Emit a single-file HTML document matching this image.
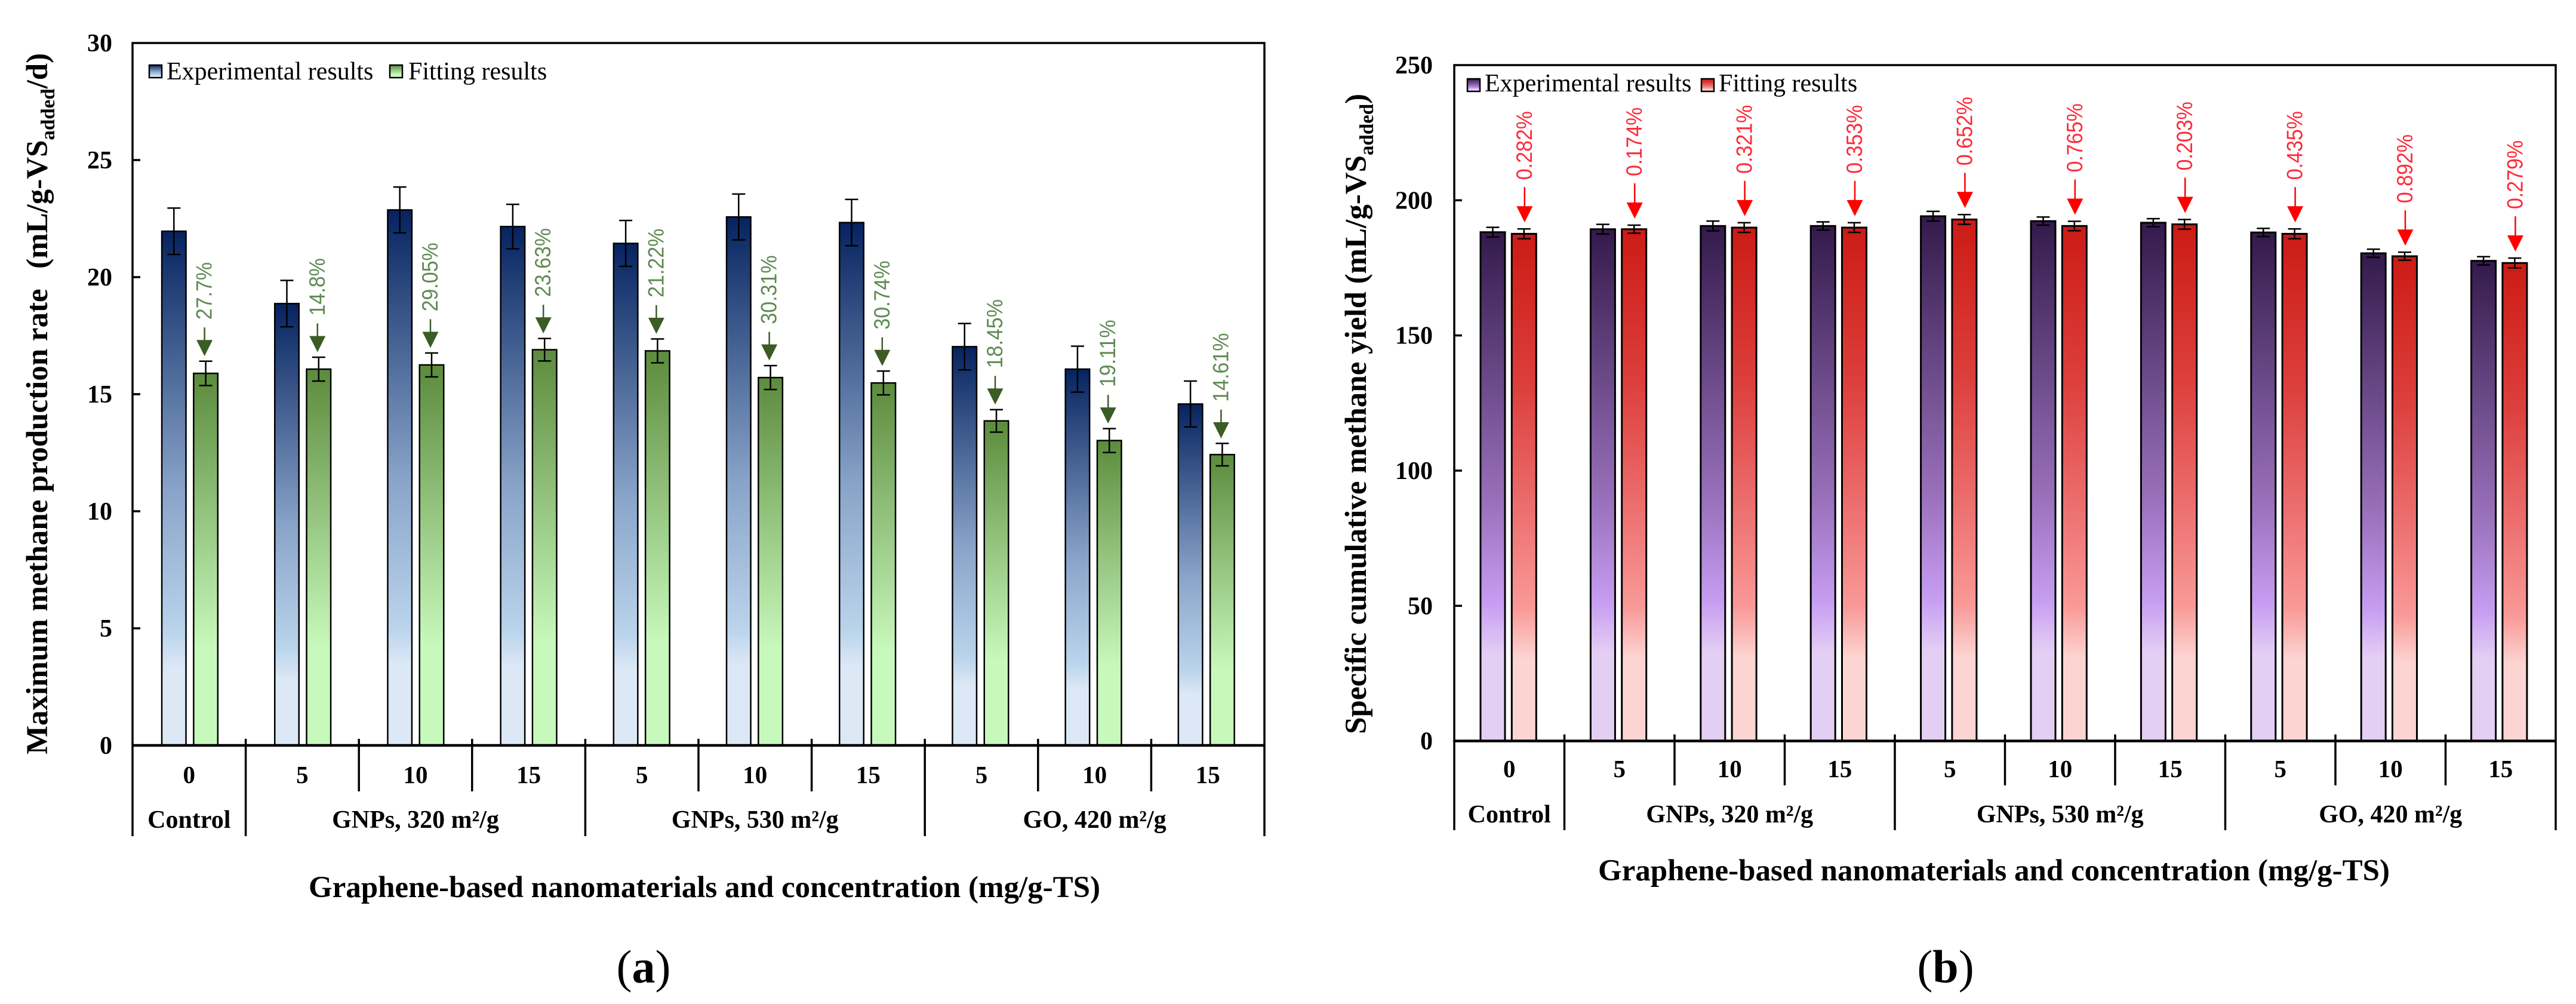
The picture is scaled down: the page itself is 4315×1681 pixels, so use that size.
<!DOCTYPE html>
<html lang="en">
<head>
<meta charset="utf-8">
<title>Methane production rate and yield: experimental and fitting results</title>
<style>
html,body{margin:0;padding:0;background:#fff;width:4315px;height:1681px;overflow:hidden}
svg{display:block}
text{font-family:"Liberation Serif","DejaVu Serif",serif;fill:#000;white-space:pre}
.tick{font-size:42px;font-weight:700}
.cat{font-size:41px;font-weight:700;text-anchor:middle}
.grp{font-size:42px;font-weight:700;text-anchor:middle}
.leg{font-size:42px}
.title{font-size:51px;font-weight:700}
.sub{font-size:33px}
.pct{font-family:"Liberation Sans","DejaVu Sans",sans-serif;font-size:34px}
.cap{font-size:78px}
</style>
</head>
<body>
<svg xmlns="http://www.w3.org/2000/svg" width="4315" height="1681" viewBox="0 0 4315 1681">
<defs>
<linearGradient id="grad-blue" x1="0" y1="0" x2="0" y2="1">
<stop offset="0" stop-color="#062360"/><stop offset=".5" stop-color="#88a3c8"/><stop offset=".78" stop-color="#bad4ec"/><stop offset=".85" stop-color="#dce8f5"/><stop offset="1" stop-color="#dce8f5"/>
</linearGradient>
<linearGradient id="grad-green" x1="0" y1="0" x2="0" y2="1">
<stop offset="0" stop-color="#5c8b3d"/><stop offset=".74" stop-color="#c8f9bc"/><stop offset="1" stop-color="#c8f9bc"/>
</linearGradient>
<linearGradient id="grad-purple" x1="0" y1="0" x2="0" y2="1">
<stop offset="0" stop-color="#331a4b"/><stop offset=".54" stop-color="#9b72bd"/><stop offset=".73" stop-color="#c79df2"/><stop offset=".83" stop-color="#e4cff4"/><stop offset="1" stop-color="#e4cff4"/>
</linearGradient>
<linearGradient id="grad-red" x1="0" y1="0" x2="0" y2="1">
<stop offset="0" stop-color="#cc1b15"/><stop offset=".3" stop-color="#dc3f3c"/><stop offset=".54" stop-color="#ec6e6e"/><stop offset=".74" stop-color="#f99a98"/><stop offset=".84" stop-color="#fcd5d2"/><stop offset="1" stop-color="#fcd5d2"/>
</linearGradient>
</defs>

<rect width="4315" height="1681" fill="#fff"/>

<g id="panel-a">
  <text class="title" transform="translate(79,1263) rotate(-90)">Maximum methane production rate  <tspan dx="8">(mL/g-VS</tspan><tspan class="sub" dy="12">added</tspan><tspan dy="-12">/d)</tspan></text>
  <text class="title" x="517" y="1502">Graphene-based nanomaterials and concentration (mg/g-TS)</text>
  <g>
    <rect x="250" y="109" width="21" height="21" fill="url(#grad-blue)" stroke="#000" stroke-width="2.5"/>
    <text class="leg" x="279" y="133">Experimental results</text>
    <rect x="653" y="109" width="21" height="21" fill="url(#grad-green)" stroke="#000" stroke-width="2.5"/>
    <text class="leg" x="684" y="133">Fitting results</text>
  </g>
</g>
<text x="1078" y="1645" class="cap" text-anchor="middle">(<tspan font-weight="700">a</tspan>)</text>

<g id="panel-b">
  <text class="title" transform="translate(2288,1229) rotate(-90)">Specific cumulative methane yield (mL/g-VS<tspan class="sub" dy="12">added</tspan><tspan dy="-12">)</tspan></text>
  <text class="title" x="2677" y="1474">Graphene-based nanomaterials and concentration (mg/g-TS)</text>
  <g>
    <rect x="2458" y="132" width="21" height="21" fill="url(#grad-purple)" stroke="#000" stroke-width="2.5"/>
    <text class="leg" x="2487" y="153">Experimental results</text>
    <rect x="2850" y="132" width="21" height="21" fill="url(#grad-red)" stroke="#000" stroke-width="2.5"/>
    <text class="leg" x="2879" y="153">Fitting results</text>
  </g>
</g>
<text x="3259" y="1645" class="cap" text-anchor="middle">(<tspan font-weight="700">b</tspan>)</text>
</svg>

<script>
// Shared categories
const concentrations = ['0', '5', '10', '15', '5', '10', '15', '5', '10', '15'];
const groupLabels = ['Control', 'GNPs, 320 m²/g', 'GNPs, 530 m²/g', 'GO, 420 m²/g'];
const groupSizes = [1, 3, 3, 3];

// Panel (a): maximum methane production rate
const rateTicks = [0, 5, 10, 15, 20, 25, 30];
const rateExperimental = [21.96, 18.87, 22.87, 22.16, 21.44, 22.57, 22.33, 17.03, 16.07, 14.58];
const rateExperimentalError = [0.99, 0.99, 0.98, 0.95, 0.98, 0.98, 0.99, 0.99, 0.98, 0.98];
const rateFitting = [15.89, 16.07, 16.25, 16.90, 16.85, 15.71, 15.48, 13.86, 13.02, 12.42];
const rateFittingError = [0.52, 0.51, 0.51, 0.48, 0.51, 0.51, 0.51, 0.48, 0.51, 0.48];
const rateDeviation = ['27.7%', '14.8%', '29.05%', '23.63%', '21.22%', '30.31%', '30.74%', '18.45%', '19.11%', '14.61%'];

// Panel (b): specific cumulative methane yield
const yieldTicks = [0, 50, 100, 150, 200, 250];
const yieldExperimental = [188.2, 189.3, 190.5, 190.5, 194.1, 192.3, 191.7, 188.1, 180.4, 177.6];
const yieldExperimentalError = [1.8, 1.8, 1.8, 1.5, 1.8, 1.5, 1.5, 1.5, 1.5, 1.55];
const yieldFitting = [187.6, 189.3, 189.9, 189.9, 192.9, 190.5, 191.1, 187.6, 179.3, 176.8];
const yieldFittingError = [1.8, 1.5, 1.8, 1.8, 1.8, 1.74, 1.8, 1.8, 1.5, 1.8];
const yieldDeviation = ['0.282%', '0.174%', '0.321%', '0.353%', '0.652%', '0.765%', '0.203%', '0.435%', '0.892%', '0.279%'];

const SVG_NS = 'http://www.w3.org/2000/svg';

function mk(tag, attrs, parent) {
  const node = document.createElementNS(SVG_NS, tag);
  for (const key in attrs) node.setAttribute(key, attrs[key]);
  parent.appendChild(node);
  return node;
}

function drawPanel(panel, cfg) {
  const yScale = function (v) {
    return cfg.y0 - v * (cfg.y0 - cfg.yTop) / cfg.yMax;
  };
  const cellX = function (i) {
    return cfg.left + i * (cfg.right - cfg.left) / concentrations.length;
  };
  const barCenter = function (i, first) {
    return first + i * cfg.barStep;
  };

  // Bars and error bars
  const drawSeries = function (values, errors, first, fill, seriesName) {
    values.forEach(function (v, i) {
      const cx = barCenter(i, first);
      const bar = mk('rect', {
        x: cx - cfg.barWidth / 2,
        y: yScale(v),
        width: cfg.barWidth,
        height: cfg.y0 - yScale(v),
        fill: fill,
        stroke: '#000',
        'stroke-width': cfg.barStroke
      }, panel);
      
      

      const errorBar = mk('path', {
        d: 'M' + (cx - 11) + ' ' + yScale(v + errors[i]) + 'H' + (cx + 11) +
           'M' + cx + ' ' + yScale(v + errors[i]) + 'V' + yScale(v - errors[i]) +
           'M' + (cx - 11) + ' ' + yScale(v - errors[i]) + 'H' + (cx + 11),
        fill: 'none',
        stroke: '#000',
        'stroke-width': 2.5
      }, panel);
      
      
    });
  };
  drawSeries(cfg.experimental, cfg.experimentalError, cfg.firstExp, cfg.expFill, 'experimental');
  drawSeries(cfg.fitting, cfg.fittingError, cfg.firstFit, cfg.fitFill, 'fitting');

  // Deviation arrows and labels
  cfg.deviation.forEach(function (label, i) {
    const ax = barCenter(i, cfg.firstFit) + cfg.arrowShift;
    const tip = yScale(cfg.fitting[i] + cfg.fittingError[i]) - cfg.arrowGap;
    const headTop = tip - 27;
    const lineTop = tip - cfg.arrowLength;

    const shaft = mk('line', {
      x1: ax, y1: lineTop, x2: ax, y2: headTop + 1,
      stroke: cfg.arrowColor,
      'stroke-width': 2.5
    }, panel);
    
    

    const head = mk('polygon', {
      points: (ax - 13.5) + ',' + headTop + ' ' + (ax + 13.5) + ',' + headTop + ' ' + ax + ',' + tip,
      fill: cfg.arrowColor
    }, panel);
    
    

    const pct = mk('text', {
      class: 'pct',
      transform: 'translate(' + (ax + 12) + ',' + (lineTop - cfg.labelGap) + ') rotate(-90) scale(1,1.1)',
      style: 'fill:' + cfg.labelColor
    }, panel);
    pct.textContent = label;
    
    
  });

  // Plot frame
  const frame = mk('rect', {
    x: cfg.left, y: cfg.yTop,
    width: cfg.right - cfg.left, height: cfg.y0 - cfg.yTop,
    fill: 'none', stroke: '#000', 'stroke-width': 3.5
  }, panel);
  
  

  // Y axis
  cfg.ticks.forEach(function (t) {
    if (t > 0 && t < cfg.yMax) {
      const mark = mk('line', {
        x1: cfg.left, x2: cfg.left + 13, y1: yScale(t), y2: yScale(t),
        stroke: '#000', 'stroke-width': 3.5
      }, panel);
      
      
    }
    const tickLabel = mk('text', {
      class: 'tick',
      x: cfg.tickRight,
      y: yScale(t) + 14,
      'text-anchor': 'end'
    }, panel);
    tickLabel.textContent = String(t);
    
    
  });

  // X axis line
  const xAxis = mk('line', {
    x1: cfg.left, x2: cfg.right, y1: cfg.y0, y2: cfg.y0,
    stroke: '#000', 'stroke-width': 4.5
  }, panel);
  
  

  // Category labels
  concentrations.forEach(function (c, i) {
    const catLabel = mk('text', {
      class: 'cat',
      x: cellX(i + 0.5),
      y: cfg.catBase
    }, panel);
    catLabel.textContent = c;
    
    
  });

  // Category separators: long on group boundaries, short elsewhere
  const boundaries = [0];
  groupSizes.forEach(function (s) {
    boundaries.push(boundaries[boundaries.length - 1] + s);
  });
  for (let i = 0; i <= concentrations.length; i++) {
    const isBoundary = boundaries.indexOf(i) >= 0;
    const sep = mk('line', {
      x1: cellX(i), x2: cellX(i),
      y1: (i === 0 || i === concentrations.length) ? cfg.y0 : cfg.y0 - 11,
      y2: isBoundary ? cfg.longEnd : cfg.shortEnd,
      stroke: '#000', 'stroke-width': 3.5
    }, panel);
    
    
  }

  // Group labels
  groupLabels.forEach(function (g, i) {
    const groupLabel = mk('text', {
      class: 'grp',
      x: cellX((boundaries[i] + boundaries[i + 1]) / 2),
      y: cfg.groupBase
    }, panel);
    groupLabel.textContent = g;
    
    
  });
}

drawPanel(document.getElementById('panel-a'), {
  left: 222, right: 2118, yTop: 72, y0: 1248, yMax: 30,
  ticks: rateTicks, tickRight: 188,
  experimental: rateExperimental, experimentalError: rateExperimentalError,
  fitting: rateFitting, fittingError: rateFittingError, deviation: rateDeviation,
  firstExp: 291.3, firstFit: 344.6, barStep: 189.2, barWidth: 40.5, barStroke: 2.5,
  expFill: 'url(#grad-blue)', fitFill: 'url(#grad-green)',
  arrowColor: '#3b5c24', labelColor: '#5f8a52', arrowGap: 8.5, arrowLength: 48, arrowShift: -2, labelGap: 13,
  catBase: 1311, groupBase: 1386, shortEnd: 1325, longEnd: 1400
});

drawPanel(document.getElementById('panel-b'), {
  left: 2436, right: 4281, yTop: 109, y0: 1240.6, yMax: 250,
  ticks: yieldTicks, tickRight: 2400,
  experimental: yieldExperimental, experimentalError: yieldExperimentalError,
  fitting: yieldFitting, fittingError: yieldFittingError, deviation: yieldDeviation,
  firstExp: 2500.5, firstFit: 2552.8, barStep: 184.4, barWidth: 41, barStroke: 3,
  expFill: 'url(#grad-purple)', fitFill: 'url(#grad-red)',
  arrowColor: '#ff0000', labelColor: '#ff2a3a', arrowGap: 11, arrowLength: 59, arrowShift: 1, labelGap: 12,
  catBase: 1301, groupBase: 1377, shortEnd: 1315, longEnd: 1390
});
</script>
</body>
</html>
